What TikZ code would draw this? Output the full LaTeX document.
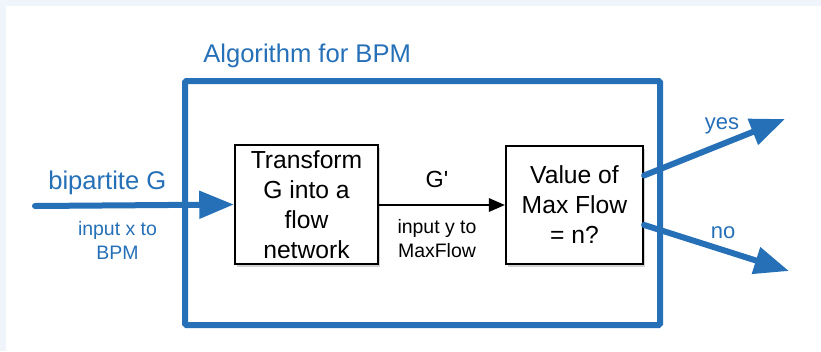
\documentclass[tikz,border=0pt]{standalone}
\usepackage{fontspec}
\setmainfont{Liberation Sans}
\usetikzlibrary{arrows.meta,shadows}
\definecolor{bpmblue}{RGB}{38,112,184}
\definecolor{pagetint}{RGB}{240,245,252}
\begin{document}
\begin{tikzpicture}[x=0.75pt,y=-0.75pt,
    stepbox/.style={draw=black, line width=1.6pt, fill=white, inner sep=0pt, align=center,
      font=\fontsize{18.5}{22.5}\selectfont,
      drop shadow={shadow xshift=1.5pt, shadow yshift=-2pt, opacity=0.35}},
    bluearrow/.style={draw=bpmblue, line width=4.5pt,
      -{Triangle[length=26pt,width=20pt]}},
    bluetext/.style={text=bpmblue, inner sep=0pt}]
    % page and its margins
    \fill[pagetint] (0,0) rectangle (821,351);
    \fill[white] (6,6) rectangle (821,351);
    % the algorithm box
    \node[draw=bpmblue, line width=4.5pt, rounded corners=1pt, inner sep=0pt,
      minimum width=356.25pt, minimum height=183pt] (algo) at (422.5,203) {};
    \node[bluetext, anchor=base west, font=\fontsize{19.2}{23}\selectfont] (title) at (203,62) {Algorithm for BPM};
    % the two steps
    \node[stepbox, minimum width=107.25pt, minimum height=89.25pt] (trans) at (306.5,204.5)
      {Transform\\G into a\\flow\\network};
    \node[stepbox, minimum width=102.75pt, minimum height=88.5pt] (val) at (574.5,205)
      {Value of\\Max Flow\\= n?};
    % input
    \coordinate (in) at (35,206);
    \draw[bluearrow, line cap=round] (in) -- (trans.west);
    \node[bluetext, anchor=base west, font=\fontsize{19.2}{23}\selectfont] (bip) at (48,189) {bipartite G};
    \node[bluetext, anchor=base, align=center, font=\fontsize{14.6}{17.3}\selectfont] (inx) at (117.5,259)
      {input x to\\BPM};
    % between the steps
    \draw[line width=1.5pt, -{Triangle[length=12pt,width=10pt]}] (trans.east |- val.west) -- (val.west);
    \node[anchor=base, font=\fontsize{17.5}{21}\selectfont, inner sep=0pt] (gp) at (437,187) {G\textquotesingle};
    \node[anchor=base, align=center, font=\fontsize{14.6}{18}\selectfont, inner sep=0pt] (iny) at (437,257)
      {input y to\\MaxFlow};
    % outputs
    \coordinate (yesend) at (785,119);
    \coordinate (noend) at (789,271);
    \draw[bluearrow, line cap=round] (val.23) -- (yesend);
    \draw[bluearrow, line cap=round] (val.-16) -- (noend);
    \node[bluetext, anchor=base, font=\fontsize{16.5}{20}\selectfont] (yes) at (722,129) {yes};
    \node[bluetext, anchor=base, font=\fontsize{16.5}{20}\selectfont] (no) at (723,238) {no};
\end{tikzpicture}
\end{document}
